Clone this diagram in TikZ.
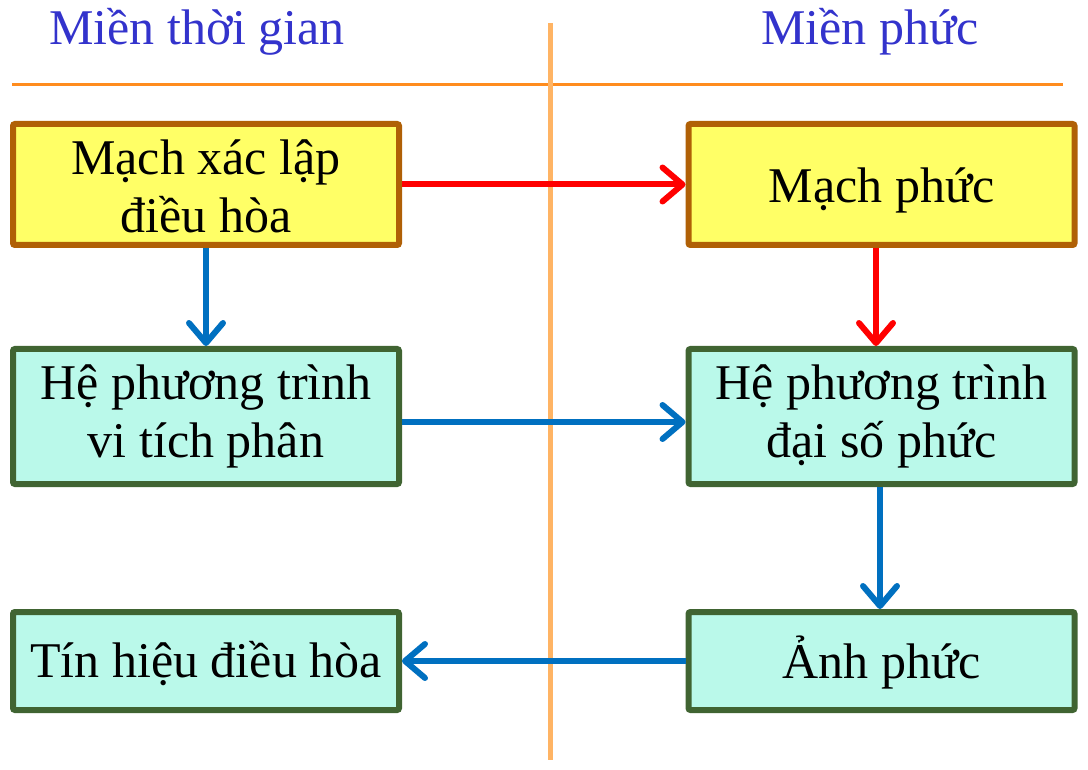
\documentclass[tikz,border=0pt]{standalone}
\usepackage{fontspec}
\setmainfont{Liberation Serif}
\usetikzlibrary{arrows.meta}
\definecolor{titleblue}{RGB}{51,51,204}
\definecolor{rulecol}{RGB}{255,140,30}
\definecolor{splitcol}{RGB}{255,180,100}
\definecolor{boxyellow}{RGB}{255,255,102}
\definecolor{boxbrown}{RGB}{176,96,6}
\definecolor{boxcyan}{RGB}{186,249,234}
\definecolor{boxgreen}{RGB}{64,100,50}
\definecolor{arrblue}{RGB}{0,112,192}
\definecolor{arrred}{RGB}{255,0,0}
\newcommand{\lowertext}[2]{\raisebox{-#1}[\height][\depth]{#2}}

\begin{document}
\begin{tikzpicture}[x=1pt, y=-1pt,
	yellowbox/.style={draw=boxbrown, fill=boxyellow, line width=6pt, rounded corners=2pt, minimum width=386pt, align=center, inner sep=0pt, font=\fontsize{50}{58}\selectfont},
	cyanbox/.style={draw=boxgreen, fill=boxcyan, line width=6pt, rounded corners=2pt, minimum width=386pt, align=center, inner sep=0pt, font=\fontsize{50}{58}\selectfont},
	redarrow/.style={draw=arrred, line width=6pt, -{Straight Barb[length=20pt, width=34pt, round]}},
	bluearrow/.style={draw=arrblue, line width=6pt, -{Straight Barb[length=20pt, width=34pt, round]}}]
	\useasboundingbox (0,0) rectangle (1088,770);
	% titles and dividing lines
	\node[anchor=base, text=titleblue, font=\fontsize{50}{58}\selectfont] (timetitle) at (197,45) {Miền thời gian};
	\node[anchor=base, text=titleblue, font=\fontsize{50}{58}\selectfont] (complextitle) at (870,45) {Miền phức};
	\draw [rulecol, line width=3pt] (12,85) -- (1063,85);
	\draw [splitcol, line width=5pt] (550,23) -- (550,760);
	% boxes
	\node[yellowbox, minimum height=121pt] (steady) at (206,184.5) {\lowertext{2pt}{Mạch xác lập}\\\lowertext{2pt}{điều hòa}};
	\node[yellowbox, minimum height=121pt] (cplxcirc) at (881.5,184.5) {\lowertext{6pt}{Mạch phức}};
	\node[cyanbox, minimum height=135pt] (diffeq) at (206,416.5) {Hệ phương trình\\vi tích phân};
	\node[cyanbox, minimum height=135pt] (algeq) at (881.5,416.5) {Hệ phương trình\\đại số phức};
	\node[cyanbox, minimum height=98pt] (signal) at (206,661) {\lowertext{3pt}{Tín hiệu điều hòa}};
	\node[cyanbox, minimum height=98pt] (image) at (881.5,661) {\lowertext{2pt}{Ảnh phức}};
	% arrows
	\draw [redarrow] (steady.east) -- (cplxcirc.west);
	\draw [redarrow] ([xshift=-5.5pt]cplxcirc.south) -- ([xshift=-5.5pt]algeq.north);
	\draw [bluearrow] (steady.south) -- (diffeq.north);
	\draw [bluearrow] ([yshift=-5.5pt]diffeq.east) -- ([yshift=-5.5pt]algeq.west);
	\draw [bluearrow] ([xshift=-1.5pt]algeq.south) -- ([xshift=-1.5pt]image.north);
	\draw [bluearrow] (image.west) -- (signal.east);
\end{tikzpicture}
\end{document}
